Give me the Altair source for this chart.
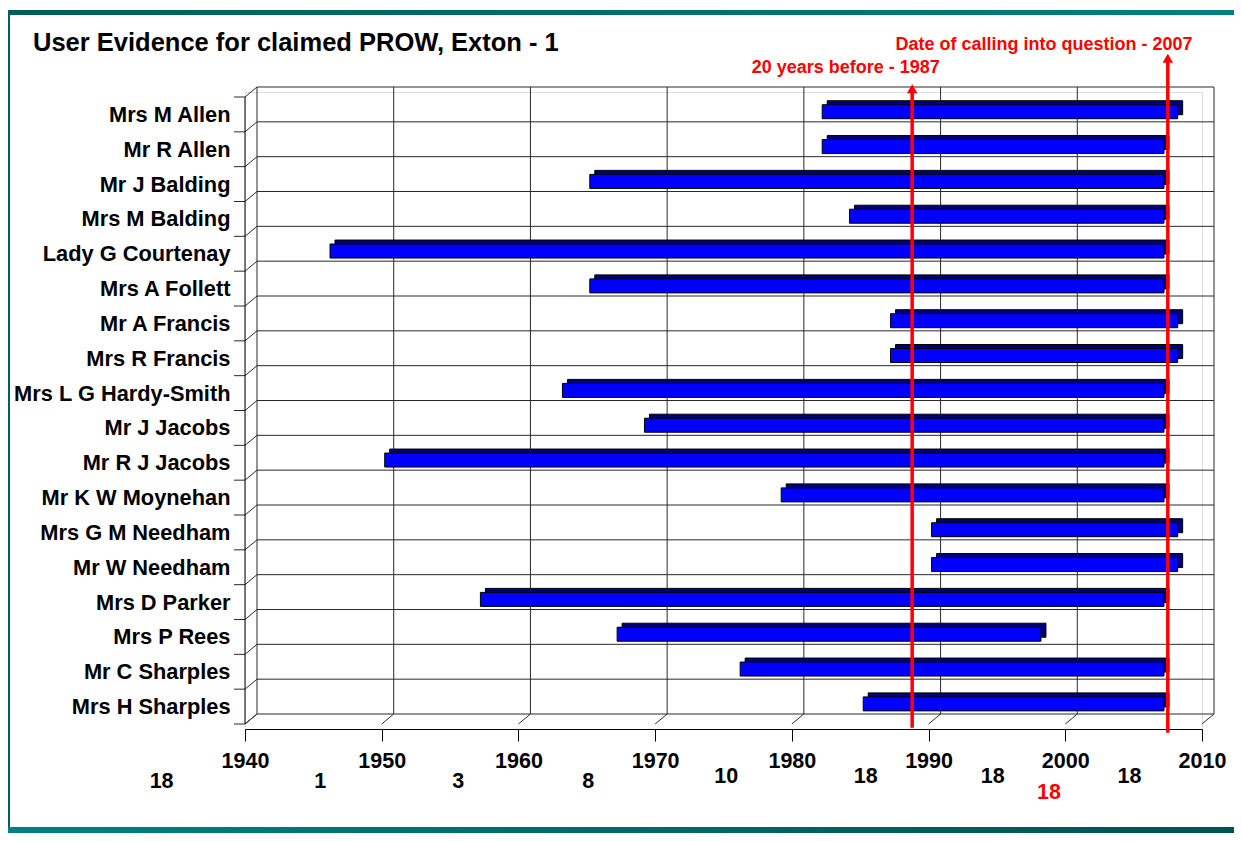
import json
import pandas as pd
import altair as alt

# ---------------- data ----------------
TITLE = "User Evidence for claimed PROW, Exton - 1"
names = ["Mrs M Allen", "Mr R Allen", "Mr J Balding", "Mrs M Balding", "Lady G Courtenay",
         "Mrs A Follett", "Mr A Francis", "Mrs R Francis", "Mrs L G Hardy-Smith", "Mr J Jacobs",
         "Mr R J Jacobs", "Mr K W Moynehan", "Mrs G M Needham", "Mr W Needham", "Mrs D Parker",
         "Mrs P Rees", "Mr C Sharples", "Mrs H Sharples"]
starts = [1982, 1982, 1965, 1984, 1946, 1965, 1987, 1987, 1963, 1969,
          1950, 1979, 1990, 1990, 1957, 1967, 1976, 1985]
ends = [2008, 2007, 2007, 2007, 2007, 2007, 2008, 2008, 2007, 2007,
        2007, 2007, 2008, 2008, 2007, 1998, 2007, 2007]
decades = [1940, 1950, 1960, 1970, 1980, 1990, 2000, 2010]

red_years = [1988.8, 2007.5]
red_tips = [-0.367, -1.243]
red_bottoms = [18.11, 18.25]
red_labels = ["20 years before - 1987", "Date of calling into question - 2007"]

count_labels = ["18", "1", "3", "8", "10", "18", "18", "18", "18"]
count_x = [1933.9, 1945.5, 1955.6, 1965.1, 1975.2, 1985.4, 1994.7, 1998.8, 2004.7]
count_y = [19.84, 19.84, 19.84, 19.84, 19.70, 19.70, 19.70, 20.16, 19.70]
count_colors = ["black"] * 7 + ["#FF0000"] + ["black"]

# ---------------- settings ----------------
FONT = "Liberation Sans"
W, H = 957, 637
NROWS = len(names)
DX, DY = 12, -10
LINE = "#2a2a2a"
RED = "#FF0000"

XS = alt.Scale(domain=[1940, 2010], nice=False, zero=False)
YS = alt.Scale(domain=[0, NROWS], reverse=True, nice=False, zero=False)

label_expr = "[" + ",".join(json.dumps(n) for n in names) + "][floor(datum.value)]"

XAX = alt.Axis(values=decades, format="d", grid=False, domain=True, domainColor="black",
               domainWidth=1, ticks=True, tickSize=12, tickColor="black",
               labelFont=FONT, labelFontSize=21.5, labelFontWeight="bold", labelColor="black",
               labelBaseline="alphabetic", labelPadding=26, labelFlush=False, labelOverlap=False)
YAX = alt.Axis(values=[i + 0.5 for i in range(NROWS)], labelExpr=label_expr, grid=False,
               domain=False, ticks=False, tickSize=0, labelFont=FONT, labelFontSize=21.8,
               labelFontWeight="bold", labelColor="black", labelPadding=15, labelLimit=400,
               labelBaseline="middle", labelOverlap=False)


def X(f):
    return alt.X(f, type="quantitative", scale=XS, axis=XAX, title=None)


def Y(f):
    return alt.Y(f, type="quantitative", scale=YS, axis=YAX, title=None)


bars_df = pd.DataFrame({"name": names, "start": starts, "end": ends,
                        "row": [i + 0.5 for i in range(NROWS)]})
grid_h = pd.DataFrame({"k": list(range(NROWS + 1)), "x0": 1940, "x1": 2010})
grid_v = pd.DataFrame({"d": decades, "y0": 0, "y1": NROWS})
floor_diag = pd.DataFrame({"d": decades, "y": NROWS})
wall_diag = pd.DataFrame({"k": list(range(NROWS + 1)), "x": 1940})
red_df = pd.DataFrame({"year": red_years, "tip": red_tips, "bottom": red_bottoms, "label": red_labels})
cnt_df = pd.DataFrame({"x": count_x, "y": count_y, "label": count_labels, "c": count_colors})
one = pd.DataFrame({"a": [0]})

# ---------------- frame ----------------
grad_top = alt.Gradient(gradient="linear", x1=0, x2=1, y1=0, y2=0,
                        stops=[alt.GradientStop(color="#005C5C", offset=0),
                               alt.GradientStop(color="#008080", offset=1)])
grad_bot = alt.Gradient(gradient="linear", x1=0, x2=1, y1=0, y2=0,
                        stops=[alt.GradientStop(color="#008080", offset=0),
                               alt.GradientStop(color="#005252", offset=1)])
top_band = alt.Chart(one).mark_rect(color=grad_top).encode(
    x=alt.value(-237.5), x2=alt.value(989), y=alt.value(-82), y2=alt.value(-77))
left_border = alt.Chart(one).mark_rect(color="#005E5E").encode(
    x=alt.value(-237.5), x2=alt.value(-235), y=alt.value(-82), y2=alt.value(741))
bottom_band = alt.Chart(one).mark_rect(color=grad_bot).encode(
    x=alt.value(-237.5), x2=alt.value(989), y=alt.value(735), y2=alt.value(741))

# ---------------- 3D box ----------------
back_h = alt.Chart(grid_h).mark_rule(color=LINE, strokeWidth=1, xOffset=DX, x2Offset=DX,
                                     yOffset=DY).encode(x=X("x0"), x2="x1", y=Y("k"))
back_v = alt.Chart(grid_v).mark_rule(color=LINE, strokeWidth=1, xOffset=DX, yOffset=DY,
                                     y2Offset=DY).encode(x=X("d"), y=Y("y0"), y2="y1")
floor_d = alt.Chart(floor_diag).mark_rule(color=LINE, strokeWidth=1, x2Offset=DX,
                                          y2Offset=DY).encode(x=X("d"), x2="d", y=Y("y"), y2="y")
wall_d = alt.Chart(wall_diag).mark_rule(color=LINE, strokeWidth=1, x2Offset=DX,
                                        y2Offset=DY).encode(x=X("x"), x2="x", y=Y("k"), y2="k")
wall_ticks = alt.Chart(wall_diag).mark_rule(color=LINE, strokeWidth=1, xOffset=-11).encode(
    x=X("x"), x2="x", y=Y("k"))
front_left = alt.Chart(grid_v[grid_v.d == 1940]).mark_rule(color="black", strokeWidth=1).encode(
    x=X("d"), y=Y("y0"), y2="y1")

# ---------------- bars ----------------
depth = alt.Chart(bars_df).mark_bar(size=14, orient="horizontal", color="#00007A", stroke="black",
                                    strokeWidth=1, xOffset=8, x2Offset=8, yOffset=-6.7).encode(
    x=X("start"), x2="end", y=Y("row"))
front = alt.Chart(bars_df).mark_bar(size=14, orient="horizontal", color="#0000FF", stroke="black",
                                    strokeWidth=1, xOffset=3, x2Offset=3, yOffset=-2.7).encode(
    x=X("start"), x2="end", y=Y("row"),
    tooltip=[alt.Tooltip("name:N"), alt.Tooltip("start:Q"), alt.Tooltip("end:Q")])

# ---------------- red markers ----------------
red_lines = alt.Chart(red_df).mark_rule(color=RED, strokeWidth=3.5, yOffset=6).encode(
    x=X("year"), y=Y("tip"), y2="bottom")
arrows = alt.Chart(red_df).mark_point(shape="triangle-up", filled=True, size=110, color=RED,
                                      opacity=1, strokeWidth=0, yOffset=4.5).encode(
    x=X("year"), y=Y("tip"))
red_texts = []
for i, (dx, dy) in enumerate([(27.7, -11.3), (24.7, -3.5)]):
    red_texts.append(alt.Chart(red_df.iloc[[i]]).mark_text(
        align="right", baseline="alphabetic", dx=dx, dy=dy, font=FONT, fontSize=18,
        fontWeight="bold", color=RED).encode(x=X("year"), y=Y("tip"), text="label:N"))

counts = alt.Chart(cnt_df).mark_text(align="center", baseline="alphabetic", font=FONT,
                                     fontSize=21.5, fontWeight="bold").encode(
    x=X("x"), y=Y("y"), text="label:N", color=alt.Color("c:N", scale=None))

title = alt.Chart(one).mark_text(text=TITLE, align="left", baseline="alphabetic", font=FONT,
                                 fontSize=25.5, fontWeight="bold", color="black").encode(
    x=alt.value(-212), y=alt.value(-41.5))

chart = alt.layer(
    top_band, left_border, bottom_band,
    back_h, back_v, floor_d, wall_d, wall_ticks, front_left,
    depth, front, red_lines, arrows, *red_texts, counts, title
).properties(
    width=W, height=H,
    padding={"left": 237, "top": 84, "right": 32, "bottom": 104},
    autosize=alt.AutoSizeParams(type="none"),
).configure_view(stroke=None).configure(background="white")

chart.save("out.html", embed_options={"renderer": "svg", "actions": False})
